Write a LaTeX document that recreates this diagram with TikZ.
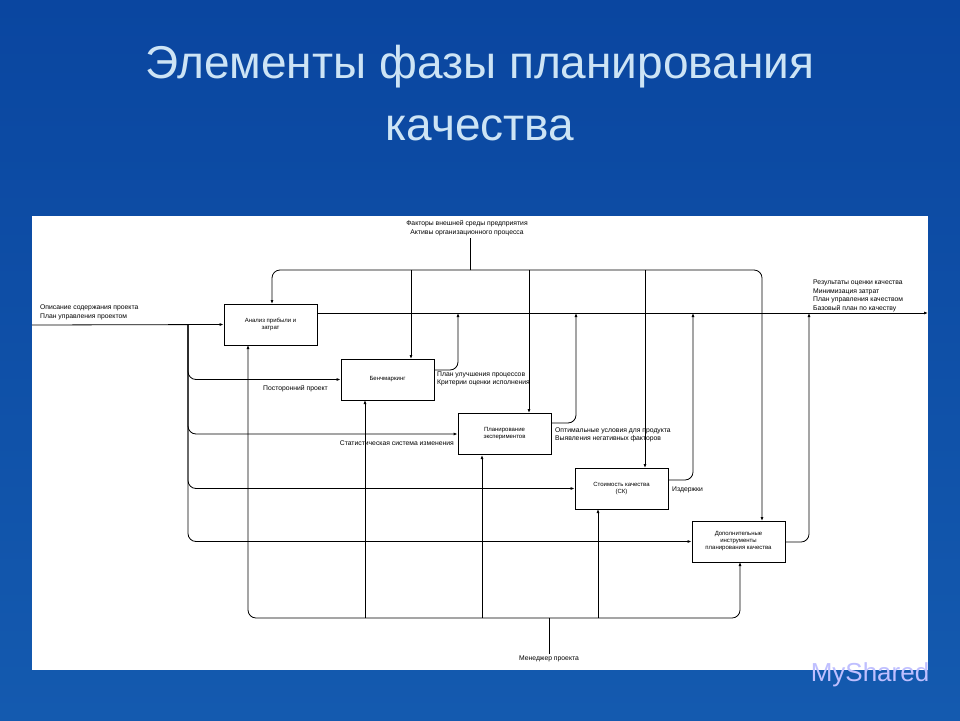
\documentclass[tikz,border=0pt]{standalone}
\usepackage{fontspec}
\setmainfont{Liberation Sans}
\usetikzlibrary{arrows.meta}
\definecolor{bgtop}{RGB}{10,70,160}
\definecolor{bgbot}{RGB}{20,90,175}
\definecolor{ttl}{RGB}{205,228,245}
\begin{document}
\begin{tikzpicture}[x=1pt,y=-1pt,
  blk/.style={draw,thick,fill=white,minimum width=93pt,minimum height=41pt,align=center,font=\fontsize{6}{7}\selectfont,inner sep=1pt},
  ln/.style={line width=0.8pt,rounded corners=8pt},
  ar/.style={ln,-{Latex[length=4pt,width=3pt]}},
  lab/.style={font=\fontsize{6.8}{8.5}\selectfont,inner sep=0pt,align=left}]
\useasboundingbox (0,0) rectangle (960,720);
\shade[top color=bgtop,bottom color=bgbot] (0,0) rectangle (960,720);
\fill[white] (32,216) rectangle (928,670);
\node[text=ttl,font=\fontsize{46}{62}\selectfont,align=center] (title) at (480,93) {Элементы фазы планирования\\качества};
% boxes
\node[blk] (b1) at (270.5,324.5) {Анализ прибыли и\\ затрат};
\node[blk] (b2) at (387.5,379.5) {Бенчмаркинг};
\node[blk] (b3) at (504.5,434) {Планирование\\ экспериментов};
\node[blk] (b4) at (621.5,488.5) {Стоимость качества\\ (СК)};
\node[blk] (b5) at (738.5,541.5) {Дополнительные\\ инструменты\\ планирования качества};
% inputs
\coordinate (in0) at (32,325);
\draw[ar] (in0) -- (b1.west);
\draw[ar] (188,325) |- (b2.west);
\draw[ar] (188,325) |- (b3.west);
\draw[ar] (188,325) |- (b4.west);
\draw[ar] (188,325) |- (b5.west);
\node[lab,anchor=south west] (l1) at (40,320) {Описание содержания проекта\\План управления проектом};
\node[lab,anchor=west] (l2) at (263,389) {Посторонний проект};
\node[lab,anchor=east] (l3) at (454,443) {Статистическая система изменения};
% controls
\coordinate (c0) at (470,238);
\node[lab,align=center,anchor=south] (lc) at (467,236) {Факторы внешней среды предприятия\\Активы организационного процесса};
\draw[ln] (c0) -- (470,270);
\draw[ar] (470,270) -| (272,304);
\draw[ar] (470,270) -| (762,521);
\draw[ar] (411,270) -- (411,359);
\draw[ar] (529,270) -- (529,413);
\draw[ar] (645,270) -- (645,468);
% outputs
\draw[ar] (b1.east |- 0,313) -- (928,313);
\draw[ar] (b2.east |- 0,370) -| (458,313);
\draw[ar] (b3.east |- 0,423) -| (576,313);
\draw[ar] (b4.east |- 0,480) -| (693,313);
\draw[ar] (b5.east |- 0,542) -| (809,313);
\node[lab,anchor=south west] (lo) at (813,312) {Результаты оценки качества\\Минимизация затрат\\План управления качеством\\Базовый план по качеству};
\node[lab,anchor=west] (lo2) at (437,379) {План улучшения процессов\\Критерии оценки исполнения};
\node[lab,anchor=west] (lo3) at (555,435) {Оптимальные условия для продукта\\Выявления негативных факторов};
\node[lab,anchor=west] (lo4) at (672,490) {Издержки};
% mechanisms
\node[lab,anchor=north] (lm) at (549,656) {Менеджер проекта};
\draw[ln] (549,654) -- (549,618);
\draw[ar] (549,618) -| (248,345);
\draw[ar] (549,618) -| (740,562);
\draw[ar] (365,618) -- (365,400);
\draw[ar] (482,618) -- (482,455);
\draw[ar] (598,618) -- (598,509);
\node[text=white!75!blue,font=\fontsize{26}{28}\selectfont] (ms) at (870,675) {MyShared};
\end{tikzpicture}
\end{document}
